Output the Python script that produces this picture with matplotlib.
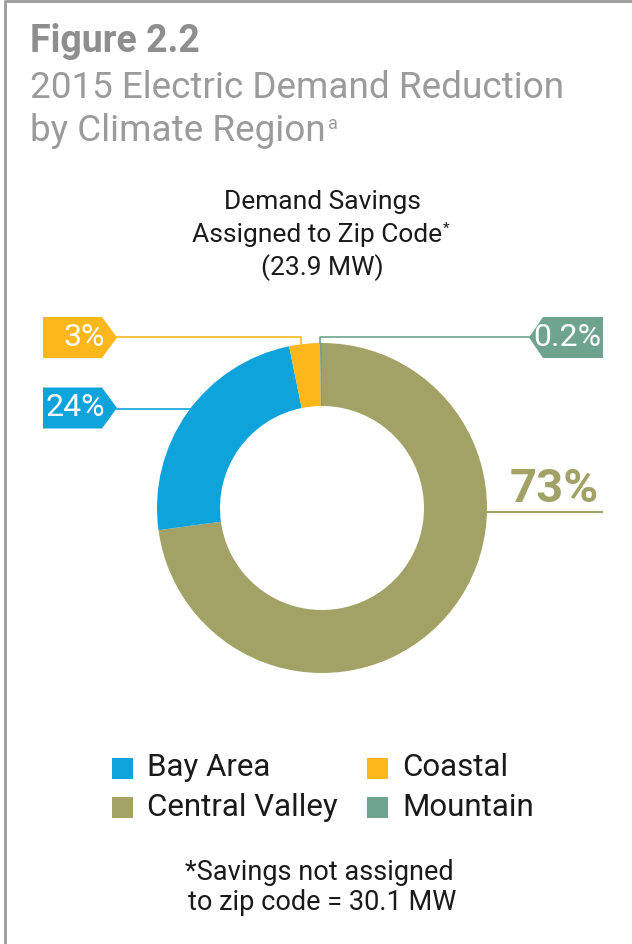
"""
Figure 2.2 - 2015 electric demand reduction by climate region (donut chart).
Produces: out.png
"""

import numpy as np
import matplotlib.pyplot as plt
from matplotlib.patches import Polygon, Rectangle

plt.rcParams['font.family'] = ['Roboto', 'DejaVu Sans']

# data
regions = ["Central Valley", "Bay Area", "Coastal", "Mountain"]
shares = [73, 24, 3, 0.2]
labels = ["73%", "24%", "3%", "0.2%"]
colors = ["#A2A266", "#0EA3DA", "#FDB71A", "#6EA48E"]
legend_order = ["Bay Area", "Coastal", "Central Valley", "Mountain"]

title_bold = "Figure 2.2"
title_lines = ["2015 Electric Demand Reduction", "by Climate Region"]
subtitle = ["Demand Savings", "Assigned to Zip Code", "(23.9 MW)"]
footnote = ["*Savings not assigned", "to zip code = 30.1 MW"]

W, H = 632, 944
CX, CY, R, RING = 322, 508, 165, 63
INK = "#1a1a1a"
GREY = "#9b9b9b"


def Y(y):
    # pixel row (top-down) -> data y
    return H - y


fig = plt.figure(figsize=(W / 100, H / 100), dpi=100)
ax = fig.add_axes([0, 0, 1, 1])

wedges, _ = ax.pie(shares, colors=colors, startangle=90, counterclock=False,
                   center=(CX, Y(CY)), radius=R, frame=True,
                   wedgeprops=dict(width=RING, linewidth=0))
ax.set_xlim(0, W)
ax.set_ylim(0, H)
ax.set_aspect('auto')
ax.axis('off')
renderer = fig.canvas.get_renderer()


def right_edge(txt):
    bb = txt.get_window_extent(renderer=renderer)
    return ax.transData.inverted().transform((bb.x1, bb.y1))[0]


# frame lines (top and left)
ax.plot([5, W], [Y(1), Y(1)], color="#9a9a9a", lw=2, solid_capstyle='butt')
ax.plot([5, 5], [Y(0), Y(H)], color="#9a9a9a", lw=2, solid_capstyle='butt')

# title block
ax.text(30, Y(42), title_bold, fontsize=27, fontweight='bold', color="#8e8e8e",
        ha='left', va='center')
ax.text(30, Y(88), title_lines[0], fontsize=26.6, color=GREY, ha='left', va='center')
t = ax.text(30, Y(131), title_lines[1], fontsize=26.6, color=GREY,
            ha='left', va='center')
ax.text(right_edge(t) + 2, Y(124), "a", fontsize=13, color=GREY,
        ha='left', va='center')

# chart subtitle
ax.text(322, Y(202), subtitle[0], fontsize=19, color=INK, ha='center', va='center')
t = ax.text(317, Y(235), subtitle[1], fontsize=19, color=INK, ha='center', va='center')
ax.text(right_edge(t) + 1, Y(229), "*", fontsize=11, color=INK, ha='left', va='center')
ax.text(322, Y(268), subtitle[2], fontsize=19, color=INK, ha='center', va='center')


def theta_mid(w):
    return np.deg2rad((w.theta1 + w.theta2) / 2)


def tag_left(y, color, text):
    # pentagon pointing right, at the left margin
    pts = [(43, Y(y - 20.5)), (102, Y(y - 20.5)), (117, Y(y)),
           (102, Y(y + 20.5)), (43, Y(y + 20.5))]
    ax.add_patch(Polygon(pts, closed=True, facecolor=color, edgecolor='none'))
    ax.text(105, Y(y), text, fontsize=23, color='white', ha='right', va='center')


def tag_right(y, color, text):
    pts = [(529, Y(y)), (543, Y(y - 20.5)), (603, Y(y - 20.5)),
           (603, Y(y + 20.5)), (543, Y(y + 20.5))]
    ax.add_patch(Polygon(pts, closed=True, facecolor=color, edgecolor='none'))
    ax.text(601, Y(y), text, fontsize=23, color='white', ha='right', va='center')


idx = {r: i for i, r in enumerate(regions)}

# Coastal: tag on the left, leader drops onto the top of the ring
i = idx["Coastal"]
w = wedges[i]
tag_left(337.5, colors[i], labels[i])
x_end = CX + R * np.cos(theta_mid(w)) - 3
y_end = CY - np.sqrt(R ** 2 - (x_end - CX) ** 2)
ax.plot([117, x_end, x_end], [Y(337), Y(337), Y(y_end)], color=colors[i], lw=1.2)

# Bay Area: tag on the left, leader runs straight to the ring
i = idx["Bay Area"]
w = wedges[i]
tag_left(408, colors[i], labels[i])
x_end = CX - np.sqrt(R ** 2 - (409 - CY) ** 2) + 33
ax.plot([117, x_end], [Y(409), Y(409)], color=colors[i], lw=1.2)

# Mountain: tag on the right
i = idx["Mountain"]
w = wedges[i]
tag_right(337.5, colors[i], labels[i])
x_end = CX + R * np.cos(theta_mid(w)) - 1
y_end = CY - np.sqrt(R ** 2 - (x_end - CX) ** 2)
ax.plot([529, x_end, x_end], [Y(337), Y(337), Y(y_end)], color=colors[i], lw=1.2)

# Central Valley: large bold label with underline
i = idx["Central Valley"]
ax.text(599, Y(489), labels[i], fontsize=34, fontweight='bold', color=colors[i],
        ha='right', va='center')
x_end = CX + np.sqrt(R ** 2 - (512 - CY) ** 2)
ax.plot([x_end, 602], [Y(512), Y(512)], color=colors[i], lw=1.5)

# legend
leg_cols = [112, 367]
leg_rows = [768, 807]
for k, name in enumerate(legend_order):
    col, row = k % 2, k // 2
    c = colors[idx[name]]
    ax.add_patch(Rectangle((leg_cols[col], Y(leg_rows[row] + 10.5)), 21, 21,
                           facecolor=c, edgecolor='none'))
    ax.text(leg_cols[col] + 35, Y(leg_rows[row]), name, fontsize=22.5,
            color=INK, ha='left', va='center')

# footnote
ax.text(319, Y(873), footnote[0], fontsize=19.5, color=INK, ha='center', va='center')
ax.text(322, Y(903), footnote[1], fontsize=19.5, color=INK, ha='center', va='center')

plt.savefig("out.png", dpi=100)
